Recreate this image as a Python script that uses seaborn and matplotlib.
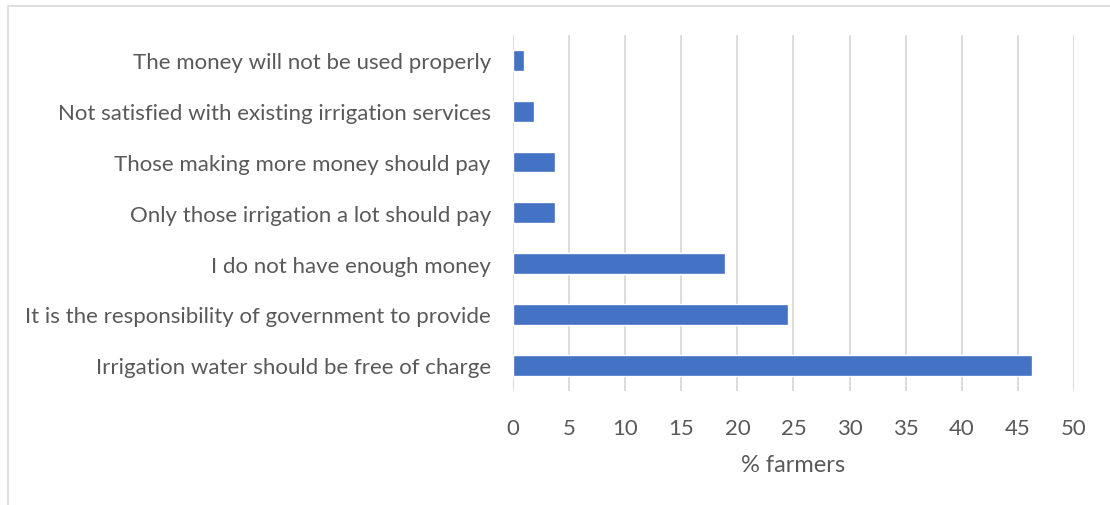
import matplotlib
matplotlib.use("Agg")
import matplotlib.pyplot as plt
import seaborn as sns
import pandas as pd
from matplotlib.patches import Rectangle

# Reasons given by farmers for not wanting to pay for irrigation water
reasons = [
    "The money will not be used properly",
    "Not satisfied with existing irrigation services",
    "Those making more money should pay",
    "Only those irrigation a lot should pay",
    "I do not have enough money",
    "It is the responsibility of government to provide",
    "Irrigation water should be free of charge",
]
pct_farmers = [0.94, 1.89, 3.77, 3.77, 18.87, 24.53, 46.23]
x_ticks = [0, 5, 10, 15, 20, 25, 30, 35, 40, 45, 50]

df = pd.DataFrame({"reason": reasons, "pct": pct_farmers})

sns.set_theme(style="white")
plt.rcParams["font.family"] = ["Lato", "DejaVu Sans"]

text_color = "#595959"
grid_color = "#d9d9d9"
bar_color = "#4472C4"

fig = plt.figure(figsize=(11.10, 5.06), dpi=100)
ax = fig.add_axes([513 / 1110, 1 - 391.5 / 506, (1074 - 513) / 1110, (391.5 - 36) / 506])

sns.barplot(data=df, x="pct", y="reason", orient="h", color=bar_color,
            width=0.41, saturation=1, ax=ax, zorder=3)

ax.set_xlim(0, 50)
ax.set_xticks(x_ticks)
ax.set_xticklabels([str(t) for t in x_ticks])
ax.tick_params(axis="x", length=0, pad=20, labelsize=16, labelcolor=text_color)
ax.tick_params(axis="y", length=0, pad=16, labelsize=16, labelcolor=text_color)
ax.set_xlabel("% farmers", fontsize=17, color=text_color, labelpad=11)
ax.set_ylabel("")

ax.grid(axis="x", color=grid_color, linewidth=1.3, zorder=0)
ax.grid(axis="y", visible=False)
for s in ax.spines.values():
    s.set_visible(False)

# light frame around the chart area (top and left edges)
fig.add_artist(Rectangle((8 / 1110, -0.2), 1.2, 1.2 - 7 / 506,
                         transform=fig.transFigure, fill=False,
                         edgecolor=grid_color, linewidth=1.2))

fig.savefig("out.png", dpi=100, facecolor="white")
